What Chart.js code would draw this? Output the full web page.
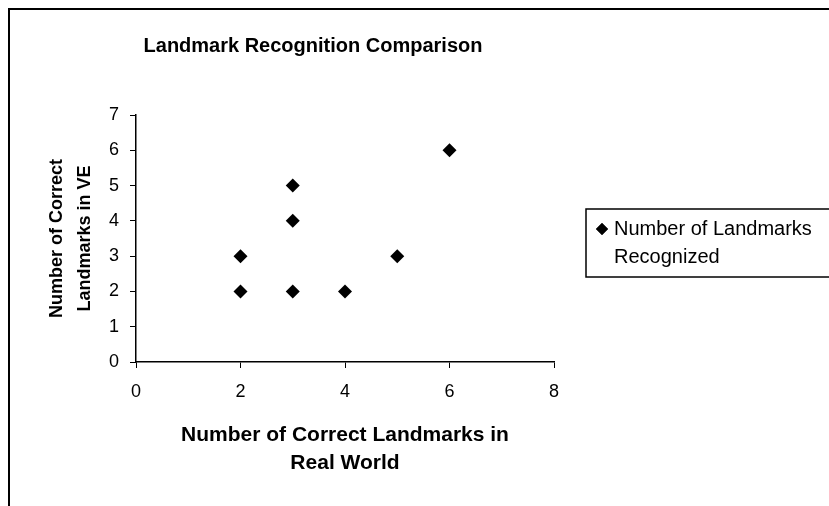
<!DOCTYPE html>
<html>
<head>
<meta charset="utf-8">
<script src="https://cdn.jsdelivr.net/npm/chart.js@4.4.1/dist/chart.umd.min.js"></script>
<style>
  html, body { margin: 0; padding: 0; background: #fff; }
  #wrap { width: 829px; height: 506px; position: relative; }
</style>
</head>
<body>
<div id="wrap"><canvas id="chart"></canvas></div>
<script>
const chartTitle = 'Landmark Recognition Comparison';
const seriesLabel = 'Number of Landmarks Recognized';
const xTitle = ['Number of Correct Landmarks in', 'Real World'];
const yTitle = ['Number of Correct', 'Landmarks in VE'];

// real world count vs. VE count, one entry per participant
const realWorld = [2, 2, 3, 3, 3, 4, 5, 6];
const inVE = [2, 3, 2, 4, 5, 2, 3, 6];

const xTicks = [0, 2, 4, 6, 8];
const yTicks = [0, 1, 2, 3, 4, 5, 6, 7];

const FONT = "'Liberation Sans', Arial, sans-serif";

Chart.defaults.color = '#000';
Chart.defaults.font.family = FONT;

// outer frame: only the top and left edges show in the scan
const framePlugin = {
  id: 'frame',
  beforeDraw(chart) {
    const { ctx, width, height } = chart;
    ctx.save();
    ctx.fillStyle = '#fff';
    ctx.fillRect(0, 0, width, height);
    ctx.strokeStyle = '#000';
    ctx.lineWidth = 2;
    ctx.beginPath();
    ctx.moveTo(9, height);
    ctx.lineTo(9, 9);
    ctx.lineTo(width, 9);
    ctx.stroke();
    ctx.restore();
  },
};

// boxed legend to the right of the plot, text wrapped to two lines
const boxLegend = {
  id: 'boxLegend',
  afterDraw(chart) {
    const { ctx, chartArea } = chart;
    const ds = chart.data.datasets[0];
    const left = chartArea.right + 32;
    const top = 209;
    const bottom = 277;
    ctx.save();
    ctx.strokeStyle = '#000';
    ctx.lineWidth = 1.5;
    ctx.strokeRect(left, top, chart.width - left + 5, bottom - top);

    Chart.helpers.drawPoint(ctx, { pointStyle: 'rectRot', radius: 6, borderWidth: 0 }, left + 16, top + 20);
    ctx.fillStyle = '#000';
    ctx.fill();

    ctx.font = '20px ' + FONT;
    ctx.textBaseline = 'middle';
    const textX = left + 28;
    const maxW = chart.width - textX + 10;
    const words = ds.label.split(' ');
    const lines = [];
    let line = '';
    words.forEach((w) => {
      const test = line ? line + ' ' + w : w;
      if (line && ctx.measureText(test).width > maxW) {
        lines.push(line);
        line = w;
      } else {
        line = test;
      }
    });
    lines.push(line);
    lines.forEach((l, i) => ctx.fillText(l, textX, top + 20 + i * 28));
    ctx.restore();
  },
};

new Chart(document.getElementById('chart'), {
  type: 'scatter',
  data: {
    datasets: [{
      label: seriesLabel,
      data: realWorld.map((x, i) => ({ x, y: inVE[i] })),
      pointStyle: 'rectRot',
      pointRadius: 7,
      pointHoverRadius: 7,
      backgroundColor: '#000',
      borderColor: '#000',
      borderWidth: 0,
    }],
  },
  options: {
    responsive: true,
    maintainAspectRatio: false,
    animation: false,
    layout: { padding: { left: 72, right: 275, top: 0, bottom: 0 } },
    plugins: {
      legend: { display: false },
      tooltip: { enabled: false },
      title: {
        display: true,
        text: chartTitle,
        font: { size: 20, weight: 'bold', family: FONT },
        color: '#000',
        padding: { top: 34, bottom: 57 },
      },
    },
    scales: {
      x: {
        type: 'linear',
        min: 0,
        max: 8,
        afterBuildTicks(scale) {
          scale.ticks = xTicks.map((v) => ({ value: v }));
        },
        afterFit(scale) {
          scale.height = 144;
        },
        border: { display: true, color: '#000', width: 1.5 },
        grid: { display: true, drawOnChartArea: false, drawTicks: true, tickLength: 6, color: '#000', lineWidth: 1 },
        ticks: { font: { size: 18 }, padding: 13, color: '#000' },
        title: {
          display: true,
          text: xTitle,
          font: { size: 21, weight: 'bold', family: FONT, lineHeight: 1.34 },
          color: '#000',
          padding: { top: 0, bottom: 29 },
        },
      },
      y: {
        type: 'linear',
        min: 0,
        max: 7,
        afterBuildTicks(scale) {
          scale.ticks = yTicks.map((v) => ({ value: v }));
        },
        afterFit(scale) {
          scale.width = 64;
        },
        border: { display: true, color: '#000', width: 1.5 },
        grid: { display: true, drawOnChartArea: false, drawTicks: true, tickLength: 6, color: '#000', lineWidth: 1 },
        ticks: { font: { size: 18 }, padding: 11, color: '#000' },
        title: {
          display: true,
          text: yTitle,
          font: { size: 18, weight: 'bold', family: FONT, lineHeight: 1.55 },
          color: '#000',
          padding: { top: -29, bottom: 0 },
        },
      },
    },
  },
  plugins: [framePlugin, boxLegend],
});
</script>
</body>
</html>
